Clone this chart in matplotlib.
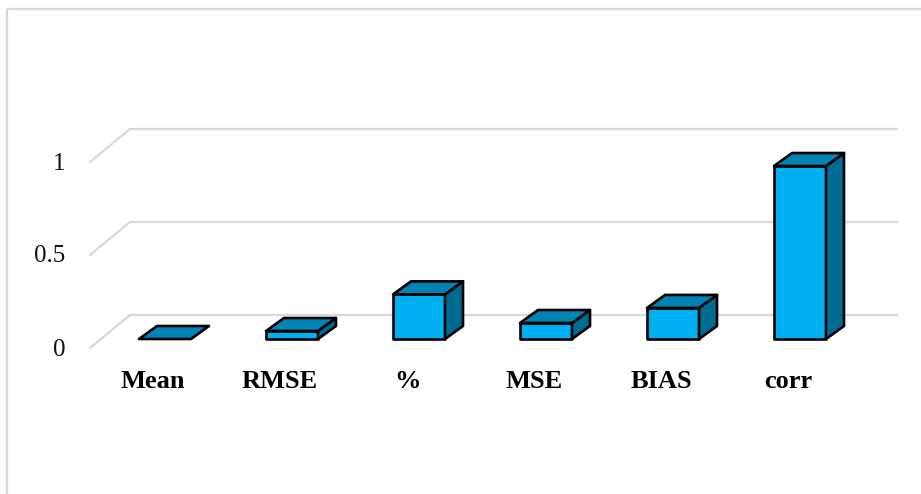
import matplotlib
matplotlib.use('Agg')
import matplotlib.pyplot as plt
from matplotlib.patches import Polygon

plt.rcParams['font.family'] = ['Liberation Serif', 'DejaVu Serif']

# values
categories = ['Mean', 'RMSE', '%', 'MSE', 'BIAS', 'corr']
values = [0.0, 0.043, 0.24, 0.086, 0.167, 0.93]
y_ticks = [0, 0.5, 1]
y_tick_labels = ['0', '0.5', '1']

W, H = 921, 494
# pixel scale of the chart
PX_X = 127.0   # one category
PX_Y = 186.0   # one unit of value
X0 = 165.0     # centre of first bar
Y0 = 339.0     # front base of bars

BAR_W = 52 / PX_X
DX = 18 / PX_X
DY = 13 / PX_Y

FRONT = '#00B0F0'
TOP = '#0084B4'
SIDE = '#006C94'
GRID = '#D9D9D9'

fig = plt.figure(figsize=(W / 100, H / 100), dpi=100)
ax = fig.add_axes([0, 0, 1, 1])
ax.set_xlim(-X0 / PX_X, (W - X0) / PX_X)
ax.set_ylim((Y0 - H) / PX_Y, Y0 / PX_Y)
ax.axis('off')

# outer frame runs off the right and bottom edge
frame_x = (6.8 - X0) / PX_X
frame_y = (Y0 - 9) / PX_Y
ax.plot([frame_x, frame_x], [(Y0 - H) / PX_Y, frame_y], color=GRID, lw=1.6, solid_capstyle='butt')
ax.plot([frame_x, (W - X0) / PX_X], [frame_y, frame_y], color=GRID, lw=1.6, solid_capstyle='butt')

# gridlines with the slanted part on the left wall
floor_off = 9 / PX_Y
left = (90 - X0) / PX_X
back = (130 - X0) / PX_X
right = (897 - X0) / PX_X
for t, lab in zip(y_ticks, y_tick_labels):
    yf = t - floor_off
    yb = yf + 33 / PX_Y
    ax.plot([left, back, right], [yf, yb, yb], color=GRID, lw=1.6, zorder=1)
    ax.text((65.5 - X0) / PX_X, yf - 1.5 / PX_Y, lab, fontsize=18, ha='right', va='center', color='#111111')

# 3d bars
for i, (c, v) in enumerate(zip(categories, values)):
    x1 = i - BAR_W / 2
    x2 = i + BAR_W / 2
    if v > 0:
        ax.add_patch(Polygon([(x1, 0), (x2, 0), (x2, v), (x1, v)], fc=FRONT, ec='black', lw=1.9, joinstyle='round', zorder=3))
        ax.add_patch(Polygon([(x2, 0), (x2 + DX, DY), (x2 + DX, v + DY), (x2, v)], fc=SIDE, ec='black', lw=1.9, joinstyle='round', zorder=3))
    ax.add_patch(Polygon([(x1, v), (x2, v), (x2 + DX, v + DY), (x1 + DX, v + DY)], fc=TOP, ec='black', lw=1.9, joinstyle='round', zorder=4))
    ax.text(i - 12 / PX_X, -43 / PX_Y, c, fontsize=19, fontweight='bold', ha='center', va='center', color='black')

fig.savefig('out.png', dpi=100)
